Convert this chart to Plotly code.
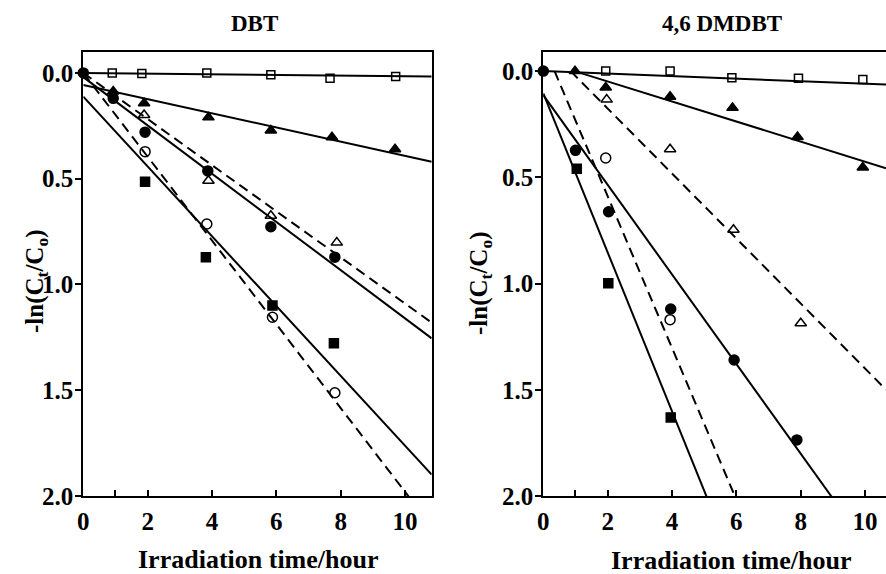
import plotly.graph_objects as go

W, H = 886, 574
FONT = "Liberation Serif"

# ---------------- DBT (left panel) data ----------------
dbt_sq_open_x = [0.90, 1.82, 3.84, 5.83, 7.67, 9.71]
dbt_sq_open_y = [0.0, 0.003, 0.0, 0.008, 0.025, 0.017]
dbt_tri_fill_x = [0.93, 1.89, 3.89, 5.83, 7.73, 9.69]
dbt_tri_fill_y = [0.088, 0.143, 0.21, 0.272, 0.304, 0.361]
dbt_tri_open_x = [1.89, 3.89, 5.83, 7.88]
dbt_tri_open_y = [0.199, 0.51, 0.675, 0.802]
dbt_circ_fill_x = [0.0, 0.93, 1.92, 3.87, 5.83, 7.82]
dbt_circ_fill_y = [0.0, 0.12, 0.28, 0.463, 0.727, 0.871]
dbt_circ_open_x = [1.92, 3.84, 5.88, 7.82]
dbt_circ_open_y = [0.372, 0.714, 1.155, 1.512]
dbt_sq_fill_x = [1.92, 3.81, 5.88, 7.79]
dbt_sq_fill_y = [0.514, 0.871, 1.10, 1.278]

# fitted lines: y = intercept + slope * (t - lag), for t >= lag
# order: sq_open, tri_fill, circ_fill, tri_open, circ_open, sq_fill
dbt_fit_lag = [0.0, 0.0, 0.0, 0.0, 0.0, 0.0]
dbt_fit_intercept = [0.0, 0.057, 0.02, 0.0, 0.0, 0.112]
dbt_fit_slope = [0.0016, 0.0335, 0.114, 0.109, 0.198, 0.165]
dbt_fit_dash = ["solid", "solid", "solid", "dash", "dash", "solid"]

# ---------------- 4,6 DMDBT (right panel) data ----------------
dmdbt_sq_open_x = [1.94, 3.94, 5.86, 7.93, 9.93]
dmdbt_sq_open_y = [0.0, 0.0, 0.031, 0.034, 0.039]
dmdbt_tri_fill_x = [0.985, 1.94, 3.94, 5.88, 7.90, 9.93]
dmdbt_tri_fill_y = [0.0, 0.077, 0.121, 0.173, 0.31, 0.454]
dmdbt_tri_open_x = [1.97, 3.94, 5.91, 8.0]
dmdbt_tri_open_y = [0.134, 0.368, 0.747, 1.187]
dmdbt_circ_fill_x = [0.0, 1.0, 2.03, 3.96, 5.93, 7.88]
dmdbt_circ_fill_y = [0.0, 0.373, 0.662, 1.12, 1.36, 1.736]
dmdbt_circ_open_x = [1.94, 3.94]
dmdbt_circ_open_y = [0.409, 1.17]
dmdbt_sq_fill_x = [1.04, 2.02, 3.96]
dmdbt_sq_fill_y = [0.459, 0.999, 1.63]

dmdbt_fit_lag = [0.0, 0.97, 0.0, 0.85, 0.35, 0.0]
dmdbt_fit_intercept = [0.0, 0.0, 0.113, 0.0, 0.0, 0.105]
dmdbt_fit_slope = [0.0059, 0.0472, 0.211, 0.153, 0.357, 0.374]
dmdbt_fit_dash = ["solid", "solid", "solid", "dash", "dash", "solid"]

x_tickvals = [0, 2, 4, 6, 8, 10]
x_minor_tickvals = [1]
y_tickvals = [0.0, 0.5, 1.0, 1.5, 2.0]

left_xmax, right_xmax = 10.83, 10.65

fig = go.Figure()

def add_fits(lags, intercepts, slopes, dashes, xmax, xa, ya):
    for lag, b, k, d in zip(lags, intercepts, slopes, dashes):
        xs = [lag, xmax]
        ys = [b + k * (x - lag) for x in xs]
        fig.add_trace(go.Scatter(
            x=xs, y=ys, mode="lines", xaxis=xa, yaxis=ya, showlegend=False,
            line=dict(color="black", width=2,
                      dash="10px,6px" if d == "dash" else "solid"),
            hoverinfo="skip"))

def add_pts(x, y, symbol, size, xa, ya):
    fig.add_trace(go.Scatter(
        x=x, y=y, mode="markers", xaxis=xa, yaxis=ya, showlegend=False,
        cliponaxis=False,
        marker=dict(symbol=symbol, size=size, color="black",
                    line=dict(color="black", width=1.5))))

add_fits(dbt_fit_lag, dbt_fit_intercept, dbt_fit_slope, dbt_fit_dash, left_xmax, "x", "y")
add_fits(dmdbt_fit_lag, dmdbt_fit_intercept, dmdbt_fit_slope, dmdbt_fit_dash, right_xmax, "x2", "y2")

for xa, ya, data in [
    ("x", "y", [(dbt_sq_open_x, dbt_sq_open_y, "square-open", 8),
                (dbt_tri_fill_x, dbt_tri_fill_y, "triangle-up", 10),
                (dbt_tri_open_x, dbt_tri_open_y, "triangle-up-open", 10),
                (dbt_circ_open_x, dbt_circ_open_y, "circle-open", 10),
                (dbt_sq_fill_x, dbt_sq_fill_y, "square", 9),
                (dbt_circ_fill_x, dbt_circ_fill_y, "circle", 10)]),
    ("x2", "y2", [(dmdbt_sq_open_x, dmdbt_sq_open_y, "square-open", 8),
                  (dmdbt_tri_open_x, dmdbt_tri_open_y, "triangle-up-open", 10),
                  (dmdbt_tri_fill_x, dmdbt_tri_fill_y, "triangle-up", 10),
                  (dmdbt_circ_open_x, dmdbt_circ_open_y, "circle-open", 10),
                  (dmdbt_sq_fill_x, dmdbt_sq_fill_y, "square", 9),
                  (dmdbt_circ_fill_x, dmdbt_circ_fill_y, "circle", 10)])]:
    for x, y, s, sz in data:
        add_pts(x, y, s, sz, xa, ya)

tickfont = dict(family=FONT, size=25, color="black", weight="bold")
xcommon = dict(showline=True, linewidth=2, linecolor="black", mirror=True,
               ticks="inside", ticklen=6, tickwidth=1.5, tickcolor="black",
               tickmode="array", tickvals=x_tickvals, tickfont=tickfont,
               minor=dict(tickvals=x_minor_tickvals, ticks="inside", ticklen=6,
                          tickwidth=1.5, tickcolor="black", showgrid=False),
               showgrid=False, zeroline=False, ticklabelstandoff=2)
ycommon = dict(showline=True, linewidth=2, linecolor="black",
               ticks="outside", ticklen=6, tickwidth=1.5, tickcolor="black",
               tickmode="array", tickvals=y_tickvals, tickformat=".1f",
               tickfont=tickfont, showgrid=False, zeroline=False,
               ticklabelstandoff=-3)

yd = [(H - 496) / H, (H - 52) / H]
fig.update_layout(
    width=W, height=H, margin=dict(l=0, r=0, t=0, b=0, autoexpand=False),
    paper_bgcolor="white", plot_bgcolor="white", showlegend=False,
    xaxis=dict(domain=[83.3 / W, 431.7 / W], range=[0, left_xmax], anchor="y", **xcommon),
    yaxis=dict(domain=yd, range=[2.0, -0.099], anchor="x", mirror=True, **ycommon),
    xaxis2=dict(domain=[543.3 / W, 1.0], range=[0, right_xmax], anchor="y2", **xcommon),
    yaxis2=dict(domain=yd, range=[2.0, -0.09], anchor="x2", mirror=False, **ycommon),
)

def ann(text, xpx, ypx, size, angle=0):
    fig.add_annotation(text=text, x=xpx / W, y=1 - ypx / H, xref="paper", yref="paper",
                       showarrow=False, textangle=angle, xanchor="center", yanchor="middle",
                       font=dict(family=FONT, size=size, color="black", weight="bold"))

ann("DBT", 254, 23, 23)
ann("4,6 DMDBT", 722, 23, 23)
ann("Irradiation time/hour", 258, 559, 26)
ann("Irradiation time/hour", 731, 560, 26)
ann("-ln(C<sub>t</sub>/C<sub>o</sub>)", 36, 282, 25, -90)
ann("-ln(C<sub>t</sub>/C<sub>o</sub>)", 481, 284, 25, -90)

fig.write_html("out.html", config={"displayModeBar": False},
               post_script="document.body.style.margin='0px';document.body.style.overflow='hidden';")
